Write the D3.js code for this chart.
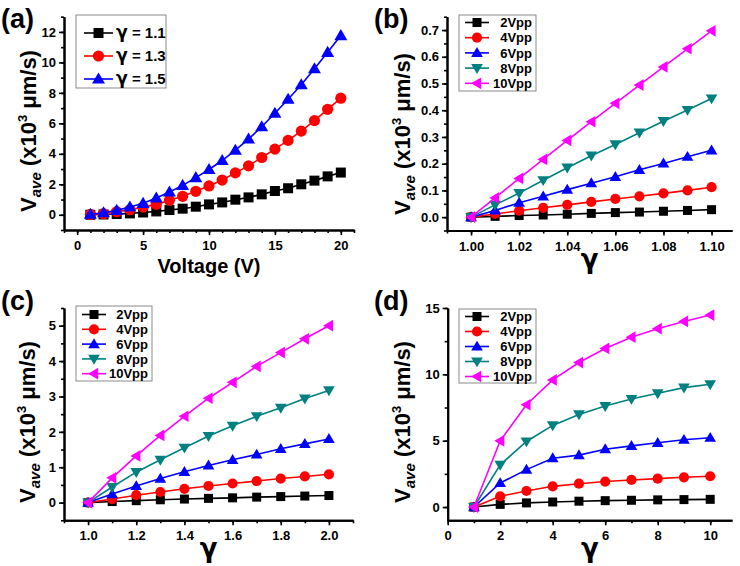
<!DOCTYPE html>
<html><head><meta charset="utf-8">
<script src="https://cdn.jsdelivr.net/npm/d3@7"></script>
<style>
body{margin:0;background:#fff;}
svg{display:block;font-family:"Liberation Sans",Arial,sans-serif;font-weight:bold;}
</style></head><body>
<svg id="c" width="740" height="566"></svg>
<script>
// ---------- DATA ----------
const voltages = d3.range(1, 21);
const gammaLabelsA = ["γ = 1.1", "γ = 1.3", "γ = 1.5"];
const a_g11 = [0.0, 0.02, 0.05, 0.09, 0.15, 0.22, 0.31, 0.40, 0.53, 0.68, 0.81, 0.99, 1.14, 1.34, 1.56, 1.74, 2.00, 2.24, 2.52, 2.77];
const a_g13 = [0.02, 0.07, 0.20, 0.33, 0.50, 0.68, 0.95, 1.21, 1.54, 1.89, 2.28, 2.75, 3.21, 3.76, 4.31, 4.88, 5.49, 6.18, 6.92, 7.65];
const a_g15 = [0.03, 0.13, 0.29, 0.51, 0.75, 1.10, 1.49, 1.93, 2.44, 2.97, 3.56, 4.24, 4.97, 5.78, 6.66, 7.58, 8.53, 9.58, 10.66, 11.76];

const vppLabels = ["2Vpp", "4Vpp", "6Vpp", "8Vpp", "10Vpp"];

const gammaB = [1.00, 1.01, 1.02, 1.03, 1.04, 1.05, 1.06, 1.07, 1.08, 1.09, 1.10];
const b_2 = [0, 0.003, 0.006, 0.008, 0.011, 0.014, 0.017, 0.019, 0.022, 0.025, 0.028];
const b_4 = [0, 0.012, 0.024, 0.035, 0.046, 0.057, 0.068, 0.078, 0.089, 0.100, 0.112];
const b_6 = [0, 0.025, 0.054, 0.078, 0.103, 0.127, 0.151, 0.177, 0.201, 0.226, 0.250];
const b_8 = [0, 0.046, 0.090, 0.138, 0.185, 0.230, 0.272, 0.316, 0.359, 0.401, 0.444];
const b_10 = [0, 0.072, 0.145, 0.216, 0.287, 0.357, 0.426, 0.494, 0.562, 0.630, 0.697];

const gammaC = [1.0, 1.1, 1.2, 1.3, 1.4, 1.5, 1.6, 1.7, 1.8, 1.9, 2.0];
const c_2 = [0, 0.03, 0.055, 0.08, 0.10, 0.12, 0.135, 0.155, 0.17, 0.185, 0.20];
const c_4 = [0, 0.10, 0.21, 0.30, 0.39, 0.47, 0.54, 0.61, 0.68, 0.74, 0.80];
const c_6 = [0, 0.24, 0.47, 0.68, 0.87, 1.05, 1.21, 1.36, 1.52, 1.66, 1.80];
const c_8 = [0, 0.44, 0.86, 1.21, 1.55, 1.88, 2.17, 2.44, 2.68, 2.94, 3.17];
const c_10 = [0, 0.70, 1.32, 1.90, 2.44, 2.95, 3.40, 3.85, 4.24, 4.63, 5.00];

const gammaD = [1, 2, 3, 4, 5, 6, 7, 8, 9, 10];
const d_2 = [0, 0.20, 0.31, 0.38, 0.44, 0.48, 0.51, 0.54, 0.56, 0.58];
const d_4 = [0, 0.81, 1.21, 1.56, 1.76, 1.92, 2.04, 2.14, 2.24, 2.32];
const d_6 = [0, 1.81, 2.82, 3.68, 3.91, 4.36, 4.61, 4.84, 5.07, 5.22];
const d_8 = [0, 3.18, 4.94, 6.15, 6.98, 7.61, 8.14, 8.57, 9.00, 9.25];
const d_10 = [0, 4.99, 7.71, 9.58, 10.89, 11.95, 12.80, 13.44, 13.99, 14.47];

// ---------- STYLE ----------
const colors = ["#000000", "#ff0000", "#0000ff", "#008080", "#ff00ff"];
const shapes = ["square", "circle", "up", "down", "left"];
const GREEK = '"DejaVu Sans",sans-serif';

const svg = d3.select("#c");

function marker(g, shape, x, y, color, s) {
  s = s || 5;
  if (shape === "square") {
    g.append("rect").attr("x", x - s).attr("y", y - s).attr("width", 2 * s).attr("height", 2 * s).attr("fill", color);
  } else if (shape === "circle") {
    g.append("circle").attr("cx", x).attr("cy", y).attr("r", s + 0.6).attr("fill", color);
  } else {
    const r = s * 1.3;
    let pts;
    if (shape === "up") pts = [[x, y - r], [x + r, y + r * 0.7], [x - r, y + r * 0.7]];
    else if (shape === "down") pts = [[x, y + r], [x + r, y - r * 0.7], [x - r, y - r * 0.7]];
    else pts = [[x - r, y], [x + r * 0.7, y - r], [x + r * 0.7, y + r]];
    g.append("polygon").attr("points", pts.map(p => p.join(",")).join(" ")).attr("fill", color);
  }
}

// writes a label; a leading "γ" is set in a Greek-friendly font
function richText(t, label, size) {
  if (label.startsWith("γ")) {
    t.append("tspan").style("font-family", GREEK).style("font-size", (size * 1.15) + "px").text("γ");
    t.append("tspan").text(label.slice(1));
  } else {
    t.text(label);
  }
}

function drawPanel(cfg) {
  const g = svg.append("g");
  const x = d3.scaleLinear().domain(cfg.xd).range(cfg.xr);
  const y = d3.scaleLinear().domain(cfg.yd).range(cfg.yr);

  // axes
  const xAxis = d3.axisBottom(x).tickValues(cfg.xMajor).tickFormat(cfg.xFmt).tickSize(5).tickSizeOuter(0);
  const xg = g.append("g").attr("transform", `translate(0,${cfg.yr[0]})`).call(xAxis);
  const xMinor = d3.axisBottom(x).tickValues(cfg.xMinor).tickFormat("").tickSize(3).tickSizeOuter(0);
  const xmg = g.append("g").attr("transform", `translate(0,${cfg.yr[0]})`).call(xMinor);
  const yAxis = d3.axisLeft(y).tickValues(cfg.yMajor).tickFormat(cfg.yFmt).tickSize(5).tickSizeOuter(0);
  const yg = g.append("g").attr("transform", `translate(${cfg.xr[0]},0)`).call(yAxis);
  const yMinor = d3.axisLeft(y).tickValues(cfg.yMinor).tickFormat("").tickSize(3).tickSizeOuter(0);
  const ymg = g.append("g").attr("transform", `translate(${cfg.xr[0]},0)`).call(yMinor);
  [xg, xmg, yg, ymg].forEach(a => {
    a.select(".domain").attr("stroke", "#000").attr("stroke-width", 2);
    a.selectAll(".tick line").attr("stroke", "#000").attr("stroke-width", 1.6);
    a.selectAll("text").attr("fill", "#000").style("font-size", "13px").style("font-weight", "bold")
      .style("font-family", '"Liberation Sans",Arial,sans-serif');
  });
  xg.selectAll(".tick text").attr("dy", "1.0em").attr("y", 7);
  yg.selectAll(".tick text").attr("x", -8);

  // series
  cfg.series.forEach((vals, i) => {
    const ci = cfg.colorIdx[i];
    const line = d3.line().x((d, j) => x(cfg.xs[j])).y(d => y(d));
    g.append("path").datum(vals).attr("d", line).attr("fill", "none")
      .attr("stroke", colors[ci]).attr("stroke-width", 1.6);
    vals.forEach((v, j) => marker(g, shapes[ci], x(cfg.xs[j]), y(v), colors[ci], cfg.ms));
  });

  // legend
  const L = cfg.legend;
  g.append("rect").attr("x", L.x).attr("y", L.y).attr("width", L.w).attr("height", L.h)
    .attr("fill", "#fff").attr("stroke", "#8a8a8a").attr("stroke-width", 1);
  cfg.series.forEach((vals, i) => {
    const ci = cfg.colorIdx[i];
    const ry = L.y + L.first + i * L.step;
    g.append("line").attr("x1", L.x + L.l0).attr("x2", L.x + L.l1).attr("y1", ry).attr("y2", ry)
      .attr("stroke", colors[ci]).attr("stroke-width", 1.6);
    marker(g, shapes[ci], L.x + (L.l0 + L.l1) / 2, ry, colors[ci], cfg.ms);
    const t = g.append("text").attr("y", ry).attr("dy", "0.36em").style("font-size", L.fs + "px");
    richText(t, cfg.labels[i], L.fs);
    if (L.anchorEnd) t.attr("x", L.x + L.w - 4).attr("text-anchor", "end");
    else t.attr("x", L.x + L.tx);
  });

  // panel label
  g.append("text").attr("x", cfg.tag[0]).attr("y", cfg.tag[1]).style("font-size", "27px").text(cfg.tagText);

  // x title
  const xc = (cfg.xr[0] + cfg.xr[1]) / 2;
  const xt = g.append("text").attr("x", xc + (cfg.xtOff || 0)).attr("y", cfg.xtY).attr("text-anchor", "middle")
    .style("font-size", cfg.xtSize + "px");
  if (cfg.xTitle === "γ") xt.style("font-family", GREEK).text(cfg.xTitle);
  else xt.text(cfg.xTitle);

  // y title
  const yt = g.append("text").attr("transform", `translate(${cfg.ytX},${cfg.ytY}) rotate(-90)`)
    .attr("text-anchor", "middle").style("font-size", "22px");
  yt.append("tspan").text("V");
  yt.append("tspan").attr("font-style", "italic").style("font-size", "15px").attr("dy", "5").text("ave");
  yt.append("tspan").attr("dy", "-5").text(" (x10");
  yt.append("tspan").style("font-size", "13px").attr("dy", "-9").text("3");
  yt.append("tspan").attr("dy", "9").text(" μm/s)");
}

const fmt1 = d3.format(".1f"), fmt2 = d3.format(".2f"), fmt0 = d3.format("d");

drawPanel({
  xs: voltages, series: [a_g11, a_g13, a_g15], colorIdx: [0, 1, 2], labels: gammaLabelsA, ms: 5,
  xd: [-1, 21], xr: [64, 354], yd: [-1, 13], yr: [230, 16.7],
  xMajor: [0, 5, 10, 15, 20], xMinor: d3.range(-1, 22, 1), xFmt: fmt0,
  yMajor: d3.range(0, 13, 2), yMinor: d3.range(-1, 14, 1), yFmt: fmt0,
  legend: { x: 76, y: 15, w: 90, h: 73, first: 18, step: 23, l0: 8, l1: 37, tx: 40, fs: 15 },
  tag: [1, 28], tagText: "(a)", xTitle: "Voltage (V)", xtY: 273, xtSize: 20, ytX: 36, ytY: 131
});

drawPanel({
  xs: gammaB, series: [b_2, b_4, b_6, b_8, b_10], colorIdx: [0, 1, 2, 3, 4], labels: vppLabels, ms: 4.5,
  xd: [0.99, 1.1085], xr: [447, 732], yd: [-0.05, 0.75], yr: [230.5, 16.7],
  xMajor: [1.00, 1.02, 1.04, 1.06, 1.08, 1.10], xMinor: d3.range(0, 12).map(i => 0.99 + i * 0.01), xFmt: fmt2,
  yMajor: d3.range(0, 8).map(i => i / 10), yMinor: d3.range(-1, 16).map(i => i * 0.05), yFmt: fmt1,
  legend: { x: 459, y: 15, w: 77, h: 76, first: 7.5, step: 15.2, l0: 6, l1: 30, anchorEnd: true, fs: 13 },
  tag: [374, 28], tagText: "(b)", xTitle: "γ", xtY: 268, xtSize: 26, ytX: 410, ytY: 134
});

drawPanel({
  xs: gammaC, series: [c_2, c_4, c_6, c_8, c_10], colorIdx: [0, 1, 2, 3, 4], labels: vppLabels, ms: 4.5,
  xd: [0.9, 2.1], xr: [64, 353], yd: [-0.5, 5.5], yr: [520.3, 308],
  xMajor: [1.0, 1.2, 1.4, 1.6, 1.8, 2.0], xMinor: d3.range(0, 13).map(i => 0.9 + i * 0.1), xFmt: fmt1,
  yMajor: d3.range(0, 6), yMinor: d3.range(-1, 12).map(i => i * 0.5), yFmt: fmt0,
  legend: { x: 76, y: 306, w: 76, h: 75, first: 8.5, step: 14.8, l0: 6, l1: 30, anchorEnd: true, fs: 13 },
  tag: [1, 310], tagText: "(c)", xTitle: "γ", xtY: 557, xtSize: 26, ytX: 35, ytY: 422
});

drawPanel({
  xs: gammaD, series: [d_2, d_4, d_6, d_8, d_10], colorIdx: [0, 1, 2, 3, 4], labels: vppLabels, ms: 4.5,
  xd: [0, 10.83], xr: [447.7, 732], yd: [-1, 15], yr: [520.3, 308],
  xMajor: [0, 2, 4, 6, 8, 10], xMinor: d3.range(0, 11), xFmt: fmt0,
  yMajor: [0, 5, 10, 15], yMinor: d3.range(0, 7).map(i => i * 2.5), yFmt: fmt0,
  legend: { x: 459, y: 309, w: 77, h: 74, first: 7.5, step: 15, l0: 6, l1: 30, anchorEnd: true, fs: 13 },
  tag: [374, 310], tagText: "(d)", xTitle: "γ", xtY: 557, xtSize: 26, ytX: 410, ytY: 422
});
</script>
</body></html>
